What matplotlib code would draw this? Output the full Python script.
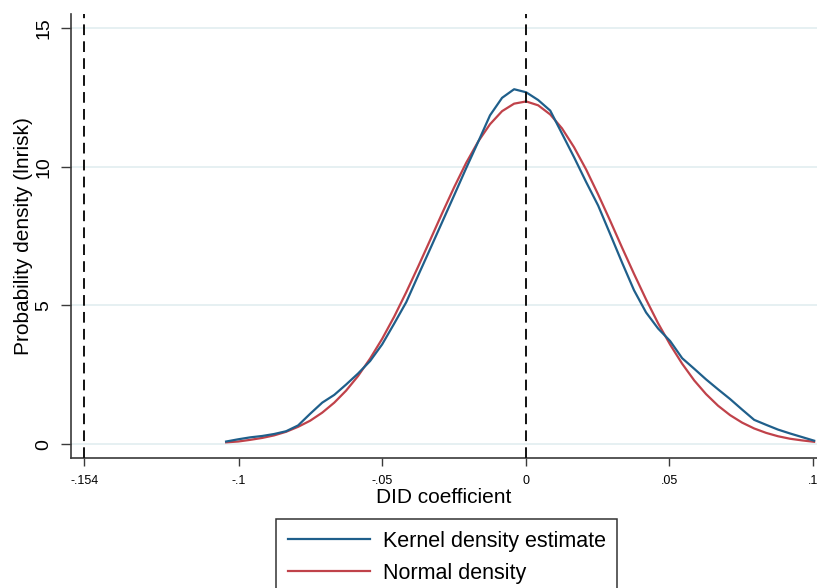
import matplotlib
matplotlib.use("Agg")
import matplotlib.pyplot as plt

plt.rcParams['font.family'] = ['Liberation Sans', 'DejaVu Sans']

# evaluation grid of the kernel density (50 points)
grid_x = [-0.1045, -0.1003, -0.0961, -0.0919, -0.0878, -0.0836, -0.0794, -0.0752, -0.0710, -0.0668,
          -0.0627, -0.0585, -0.0543, -0.0501, -0.0459, -0.0417, -0.0376, -0.0334, -0.0292, -0.0250,
          -0.0208, -0.0166, -0.0125, -0.0083, -0.0041, 0.0001, 0.0043, 0.0085, 0.0126, 0.0168,
          0.0210, 0.0252, 0.0294, 0.0336, 0.0377, 0.0419, 0.0461, 0.0503, 0.0545, 0.0587,
          0.0628, 0.0670, 0.0712, 0.0754, 0.0796, 0.0838, 0.0879, 0.0921, 0.0963, 0.1005]

kde_y = [0.10, 0.18, 0.25, 0.30, 0.37, 0.47, 0.68, 1.10, 1.50, 1.78,
         2.15, 2.55, 3.00, 3.60, 4.35, 5.12, 6.07, 7.03, 8.00, 8.97,
         9.95, 10.90, 11.85, 12.48, 12.79, 12.68, 12.40, 12.02, 11.19, 10.34,
         9.45, 8.60, 7.57, 6.53, 5.55, 4.75, 4.17, 3.72, 3.10, 2.72,
         2.34, 1.98, 1.63, 1.25, 0.88, 0.70, 0.53, 0.39, 0.26, 0.13]

normal_y = [0.07, 0.10, 0.16, 0.23, 0.32, 0.45, 0.63, 0.85, 1.14, 1.50,
            1.93, 2.46, 3.09, 3.80, 4.60, 5.48, 6.39, 7.35, 8.32, 9.26,
            10.14, 10.91, 11.53, 12.00, 12.27, 12.35, 12.21, 11.88, 11.38, 10.70,
            9.90, 9.00, 8.05, 7.07, 6.14, 5.22, 4.36, 3.59, 2.90, 2.30,
            1.81, 1.39, 1.05, 0.78, 0.57, 0.41, 0.29, 0.20, 0.14, 0.09]

ref_lines = [-0.154, 0]
x_ticks = [-0.154, -0.1, -0.05, 0, 0.05, 0.1]
x_tick_labels = ['-.154', '-.1', '-.05', '0', '.05', '.1']
y_ticks = [0, 5, 10, 15]

BLUE = '#1f5f8b'
RED = '#c0424a'
AXIS = '#3a3a3a'

fig = plt.figure(figsize=(8.17, 5.88), dpi=100)
ax = fig.add_axes([0.0865, 0.2206, 0.9135, 0.7556])

# grid lines
for y in y_ticks:
    ax.axhline(y, color='#e4eff1', lw=1.3, zorder=0)

kde_line, = ax.plot(grid_x, kde_y, color=BLUE, lw=1.6, label='Kernel density estimate', zorder=3)
norm_line, = ax.plot(grid_x, normal_y, color=RED, lw=1.6, label='Normal density', zorder=2)

for xv in ref_lines:
    ax.axvline(xv, color='#111111', lw=1.4, dashes=(5.5, 3.2), zorder=4)

ax.set_xlim(-0.1587, 0.1015)
ax.set_ylim(-0.504, 15.5)

ax.set_xticks(x_ticks)
ax.set_xticklabels(x_tick_labels, fontsize=9)
ax.set_yticks(y_ticks)
ax.set_yticklabels([str(v) for v in y_ticks], fontsize=14, rotation=90, va='center')

ax.tick_params(axis='x', length=6, width=1.0, color=AXIS, pad=6)
ax.tick_params(axis='y', length=7, width=1.0, color=AXIS, pad=6)

for side in ['top', 'right']:
    ax.spines[side].set_visible(False)
for side in ['left', 'bottom']:
    ax.spines[side].set_color(AXIS)
    ax.spines[side].set_linewidth(1.2)

ax.set_xlabel('DID coefficient', fontsize=15, labelpad=1)
ax.set_ylabel('Probability density (lnrisk)', fontsize=15, labelpad=2)

fig.legend(handles=[kde_line, norm_line],
           loc='upper left', bbox_to_anchor=(276 / 817, 1 - 519 / 588),
           fontsize=15.5, frameon=True, fancybox=False, framealpha=1,
           edgecolor='#333333', handlelength=3.8, handletextpad=0.6,
           borderpad=0.55, labelspacing=0.5, borderaxespad=0)
fig.legends[0].get_frame().set_linewidth(1.1)

fig.savefig('out.png', dpi=100)
